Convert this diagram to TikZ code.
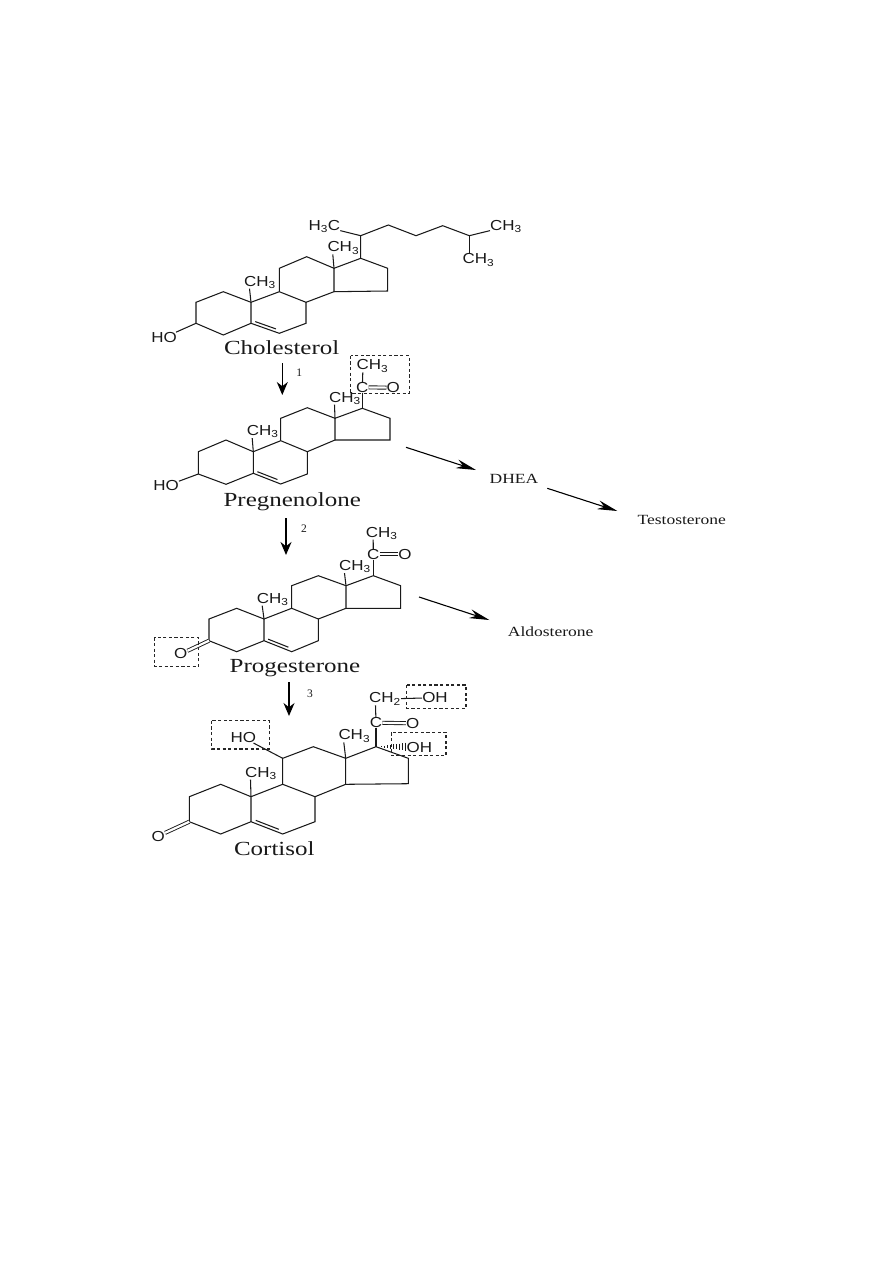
\documentclass[tikz,border=0pt]{standalone}
\usepackage{fontspec}
\setmainfont{Liberation Serif}
\newfontfamily\atomfont[FakeStretch=1.17]{Liberation Sans}
\newfontfamily\namefont[FakeStretch=1.25]{Liberation Serif}
\usetikzlibrary{arrows.meta,calc}
\tikzset{
	bond/.style={line width=1.05pt,black!90},
	dblbond/.style={line width=0.9pt,black!90,double,double distance=2.2pt},
	atom/.style={inner sep=0pt,font=\atomfont\fontsize{14.5}{14.5}\selectfont,text=black!90},
	title/.style={inner sep=0pt,font=\namefont\fontsize{20}{20}\selectfont,text=black!90},
	product/.style={inner sep=0pt,font=\namefont\fontsize{14}{14}\selectfont,text=black!90},
	stepnum/.style={inner sep=0pt,font=\fontsize{11.5}{11.5}\selectfont,text=black!90},
	markbox/.style={line width=1.35pt,black!85,dash pattern=on 3.2pt off 2.4pt},
	downarrow/.style={line width=1.2pt,black,-{Stealth[length=13pt,width=11pt]}},
	sidearrow/.style={line width=1.1pt,black,-{Stealth[length=20pt,width=9pt]}}
}
\begin{document}
\begin{tikzpicture}[x=1pt,y=-1pt]
	\useasboundingbox (0,0) rectangle (893,1263);

	% ring atoms
	\coordinate (ch1) at (223.3,291.7); \coordinate (ch2) at (196,302.3); \coordinate (ch3) at (196,323.3);
	\coordinate (ch4) at (223.3,335); \coordinate (ch5) at (251,323.3); \coordinate (ch6) at (279.3,333.3);
	\coordinate (ch7) at (306,323.3); \coordinate (ch8) at (306,302.3); \coordinate (ch9) at (279.3,291.7);
	\coordinate (ch10) at (251,302.3); \coordinate (ch11) at (279.3,268.3); \coordinate (ch12) at (306.7,256.7);
	\coordinate (ch13) at (334,268.3); \coordinate (ch14) at (334,291.7); \coordinate (ch15) at (387.7,291);
	\coordinate (ch16) at (387.7,268.3); \coordinate (ch17) at (360.7,258.3);

	\coordinate (pr1) at (226,440); \coordinate (pr2) at (198.3,451.7); \coordinate (pr3) at (198.3,474);
	\coordinate (pr4) at (226,484.3); \coordinate (pr5) at (253.3,473.3); \coordinate (pr6) at (280.7,484);
	\coordinate (pr7) at (307.3,474); \coordinate (pr8) at (307.3,451.7); \coordinate (pr9) at (280.7,440.7);
	\coordinate (pr10) at (253.3,451.7); \coordinate (pr11) at (280.7,418.3); \coordinate (pr12) at (307.3,407.7);
	\coordinate (pr13) at (335,418.3); \coordinate (pr14) at (335,440); \coordinate (pr15) at (390,440);
	\coordinate (pr16) at (390,418.3); \coordinate (pr17) at (362.3,408.3);

	\coordinate (pg1) at (236.7,608.3); \coordinate (pg2) at (209,619); \coordinate (pg3) at (209,640.7);
	\coordinate (pg4) at (236.7,651.7); \coordinate (pg5) at (264,640.7); \coordinate (pg6) at (291.7,651.7);
	\coordinate (pg7) at (318.3,640.7); \coordinate (pg8) at (318.3,619); \coordinate (pg9) at (291.7,608.3);
	\coordinate (pg10) at (264,619); \coordinate (pg11) at (291.7,585.7); \coordinate (pg12) at (318.3,575.7);
	\coordinate (pg13) at (346,585.7); \coordinate (pg14) at (346,608.3); \coordinate (pg15) at (400.7,608.3);
	\coordinate (pg16) at (400.7,585.7); \coordinate (pg17) at (373.3,575.7);

	\coordinate (co1) at (220.7,784.3); \coordinate (co2) at (189.3,796.7); \coordinate (co3) at (189.3,821.7);
	\coordinate (co4) at (220.7,834); \coordinate (co5) at (251,821.7); \coordinate (co6) at (282.7,834);
	\coordinate (co7) at (315,821.7); \coordinate (co8) at (315,796.7); \coordinate (co9) at (282.7,784.3);
	\coordinate (co10) at (251,796.7); \coordinate (co11) at (282.7,758.3); \coordinate (co12) at (313.3,746.7);
	\coordinate (co13) at (345.7,758.3); \coordinate (co14) at (345.7,784.3); \coordinate (co15) at (408.3,783.7);
	\coordinate (co16) at (408.3,758.3); \coordinate (co17) at (376,746.7);

	\foreach \m in {ch,pr,pg,co} {
		\draw[bond] (\m10) -- (\m1) -- (\m2) -- (\m3) -- (\m4) -- (\m5) -- (\m10) -- (\m9) -- (\m8) -- (\m7) -- (\m6) -- (\m5);
		\draw[bond] (\m9) -- (\m11) -- (\m12) -- (\m13) -- (\m14) -- (\m8);
		\draw[bond] (\m13) -- (\m17) -- (\m16) -- (\m15) -- (\m14);
		\draw[bond] ($(\m5)!0.15!(\m6)+(0,-3.2)$) -- ($(\m5)!0.88!(\m6)+(0,-3.2)$);
	}

	% cholesterol
	\node[atom] (chme18) at (343.3,248) {CH\textsubscript{3}};
	\node[atom] (chme19) at (260,282.3) {CH\textsubscript{3}};
	\node[atom] (choh) at (164,337.5) {HO};
	\node[atom] (chme21) at (324.3,226.7) {H\textsubscript{3}C};
	\node[atom] (chme26) at (506,226.7) {CH\textsubscript{3}};
	\node[atom] (chme27) at (478.3,260) {CH\textsubscript{3}};
	\coordinate (ch20) at (360.7,235.7);
	\coordinate (ch22) at (388.3,225);
	\coordinate (ch23) at (416,235.7);
	\coordinate (ch24) at (442.7,225.7);
	\coordinate (ch25) at (469.3,235.7);
	\draw[bond] (ch13) -- ([xshift=5.5pt]chme18.south west);
	\draw[bond] (ch10) -- ([xshift=5.5pt]chme19.south west);
	\draw[bond] (ch3) -- (choh);
	\draw[bond] (ch17) -- (ch20) -- (ch22) -- (ch23) -- (ch24) -- (ch25) -- (chme26);
	\draw[bond] (ch20) -- (chme21);
	\draw[bond] (ch25) -- ([xshift=-9pt]chme27.north);
	\node[title] (cholesterol) at (281.7,347.7) {Cholesterol};

	% pregnenolone
	\node[atom] (prme18) at (345,398.3) {CH\textsubscript{3}};
	\node[atom] (prme19) at (262.7,431.7) {CH\textsubscript{3}};
	\node[atom] (proh) at (166,486) {HO};
	\node[atom] (prc20) at (362.3,387.3) {C};
	\node[atom] (pro20) at (393.3,387.7) {O};
	\node[atom] (prme21) at (372.3,366) {CH\textsubscript{3}};
	\draw[bond] (pr13) -- ([xshift=5.5pt]prme18.south west);
	\draw[bond] (pr10) -- ([xshift=5.5pt]prme19.south west);
	\draw[bond] (pr3) -- (proh);
	\draw[bond] (pr17) -- (prc20);
	\draw[bond] (prc20) -- ([xshift=-9.5pt]prme21.south);
	\draw[dblbond] (prc20) -- (pro20);
	\draw[markbox] (350.7,355.7) rectangle (409.3,393.3);
	\node[title] (pregnenolone) at (292.3,501.7) {Pregnenolone};

	% progesterone
	\node[atom] (pgme18) at (355,566.7) {CH\textsubscript{3}};
	\node[atom] (pgme19) at (272.7,599.3) {CH\textsubscript{3}};
	\node[atom] (pgo3) at (180.7,654) {O};
	\node[atom] (pgc20) at (373.3,554.3) {C};
	\node[atom] (pgo20) at (405,554.3) {O};
	\node[atom] (pgme21) at (381.7,533.3) {CH\textsubscript{3}};
	\draw[bond] (pg13) -- ([xshift=5.5pt]pgme18.south west);
	\draw[bond] (pg10) -- ([xshift=5.5pt]pgme19.south west);
	\draw[bond] (pg17) -- (pgc20);
	\draw[bond] (pgc20) -- ([xshift=-8.5pt]pgme21.south);
	\draw[dblbond] (pgc20) -- (pgo20);
	\draw[dblbond] (pg3) -- (pgo3);
	\draw[markbox] (154.7,637.3) rectangle (198.3,666.7);
	\node[title] (progesterone) at (295,668.3) {Progesterone};

	% cortisol
	\node[atom] (come18) at (354.3,736) {CH\textsubscript{3}};
	\node[atom] (come19) at (261,773.3) {CH\textsubscript{3}};
	\node[atom] (coo3) at (158.3,836) {O};
	\node[atom] (coho) at (243.3,737.7) {HO};
	\node[atom] (coc20) at (376,722.7) {C};
	\node[atom] (coo20) at (412.7,723.3) {O};
	\node[atom] (coch2) at (385,699) {CH\textsubscript{2}};
	\node[atom] (cooh21) at (435,697.7) {OH};
	\node[atom] (cooh17) at (419.3,747.7) {OH};
	\draw[bond] (co13) -- ([xshift=5.5pt]come18.south west);
	\draw[bond] (co10) -- ([xshift=5.5pt]come19.south west);
	\draw[bond] (co11) -- (coho);
	\draw[bond] (co17) -- (coc20);
	\draw[bond] (coc20) -- ([xshift=-9.5pt]coch2.south);
	\draw[bond] (coch2) -- (cooh21);
	\draw[dblbond] (coc20) -- (coo20);
	\draw[dblbond] (co3) -- (coo3);
	\foreach \i in {1,...,9} {
		\draw[line width=0.8pt,black!90] ($(co17)+(2+3*\i,-0.45*\i)$) -- ($(co17)+(2+3*\i,0.45*\i)$);
	}
	\draw[markbox] (211.7,720.7) rectangle (269.3,749);
	\draw[markbox] (406.7,685) rectangle (466,708.3);
	\draw[markbox] (391.7,732.3) rectangle (446,755.7);
	\node[title] (cortisol) at (274.3,848.3) {Cortisol};

	% other products
	\node[product] (dhea) at (514,479.3) {DHEA};
	\node[product] (testosterone) at (681.7,520) {Testosterone};
	\node[product] (aldosterone) at (550.7,631.7) {Aldosterone};

	% arrows
	\coordinate (down1a) at (282.3,363); \coordinate (down1b) at (282.3,395);
	\coordinate (down2a) at (286,518); \coordinate (down2b) at (286,555);
	\coordinate (down3a) at (289,682); \coordinate (down3b) at (289,716);
	\coordinate (side1a) at (406,447.3); \coordinate (side1b) at (476,470);
	\coordinate (side2a) at (547.3,488.3); \coordinate (side2b) at (617.3,511);
	\coordinate (side3a) at (419,597); \coordinate (side3b) at (489.3,620);
	\draw[downarrow] (down1a) -- (down1b);
	\draw[downarrow] (down2a) -- (down2b);
	\draw[downarrow] (down3a) -- (down3b);
	\draw[sidearrow] (side1a) -- (side1b);
	\draw[sidearrow] (side2a) -- (side2b);
	\draw[sidearrow] (side3a) -- (side3b);
	\node[stepnum] (num1) at (299.3,372.7) {1};
	\node[stepnum] (num2) at (304,528.3) {2};
	\node[stepnum] (num3) at (310,693.3) {3};
\end{tikzpicture}
\end{document}
